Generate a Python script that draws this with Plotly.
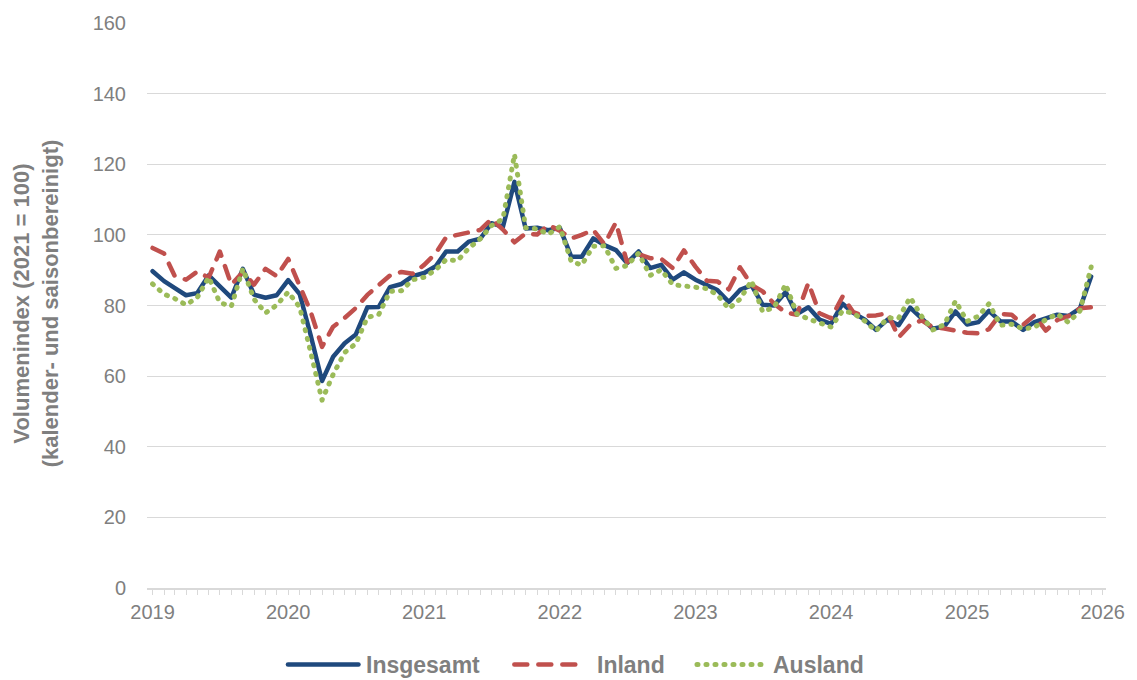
import plotly.graph_objects as go
import pandas as pd

# Monthly index values, Jan 2019 - Dec 2025 (2021 = 100, calendar and seasonally adjusted)
months = pd.date_range("2019-01-01", "2025-12-01", freq="MS")

insgesamt = [
    89.7, 86.9, 85.0, 82.9, 83.5, 88.5, 85.4, 82.2, 90.4, 83.1, 82.2, 82.9,
    87.2, 83.2, 71.8, 58.6, 65.5, 69.3, 71.8, 79.5, 79.6, 85.2, 86.1, 88.3,
    89.2, 91.1, 95.3, 95.3, 98.1, 98.9, 103.3, 102.3, 115.0, 101.8, 102.0, 101.3,
    102.0, 93.8, 93.8, 99.0, 97.1, 95.7, 92.0, 95.3, 90.6, 91.5, 87.3, 89.4,
    87.3, 85.8, 84.4, 81.0, 84.4, 85.7, 80.2, 80.0, 83.8, 77.6, 79.5, 76.0,
    74.8, 80.5, 77.9, 76.0, 73.1, 76.0, 74.4, 79.4, 76.4, 73.4, 74.1, 78.3,
    74.6, 75.3, 78.5, 75.5, 75.5, 73.1, 75.3, 76.2, 77.4, 77.0, 79.2, 88.2,
]

inland = [
    96.3, 94.7, 88.5, 87.3, 89.6, 87.9, 95.3, 85.9, 89.5, 85.9, 90.4, 88.3,
    93.2, 85.4, 78.4, 68.3, 74.0, 76.5, 79.3, 83.0, 86.0, 88.5, 89.5, 89.0,
    91.5, 94.8, 99.3, 100.0, 100.4, 101.4, 104.5, 101.5, 97.9, 100.4, 100.1, 102.8,
    101.2, 99.0, 100.0, 101.4, 97.3, 103.5, 92.2, 94.5, 93.4, 93.2, 90.6, 95.6,
    91.0, 87.0, 86.8, 84.6, 90.8, 85.8, 84.0, 80.5, 78.0, 77.4, 86.4, 77.8,
    76.4, 82.5, 78.1, 77.0, 77.2, 77.8, 71.0, 74.5, 75.8, 73.8, 73.5, 72.9,
    72.3, 72.1, 73.3, 77.6, 77.4, 74.5, 77.2, 72.9, 75.9, 77.0, 79.2, 79.5,
]

ausland = [
    86.1, 83.2, 82.0, 80.2, 82.2, 88.0, 80.8, 79.8, 90.4, 81.8, 77.9, 80.1,
    83.8, 79.5, 67.0, 53.2, 60.5, 66.7, 69.2, 76.6, 77.5, 84.0, 84.2, 87.3,
    88.0, 90.1, 93.0, 92.7, 96.2, 98.9, 102.6, 104.5, 122.8, 102.0, 101.7, 100.2,
    102.3, 92.4, 91.5, 96.8, 96.9, 90.5, 91.3, 94.8, 88.5, 90.1, 85.9, 85.6,
    85.1, 84.8, 83.0, 79.1, 81.8, 87.0, 78.2, 79.5, 86.0, 77.6, 76.2, 74.9,
    73.9, 78.5, 77.8, 75.6, 72.8, 76.5, 76.4, 82.3, 76.9, 73.1, 74.6, 81.3,
    75.5, 77.0, 80.5, 74.4, 74.7, 73.4, 73.8, 76.0, 77.6, 75.2, 78.5, 90.9,
]

series_names = ["Insgesamt", "Inland", "Ausland"]
y_ticks = [0, 20, 40, 60, 80, 100, 120, 140, 160]

BLUE = "#1F497D"
RED = "#C0504D"
GREEN = "#9BBB59"
GREY = "#7F7F7F"
GRID = "#D9D9D9"
FONT = "Liberation Sans, Arial, sans-serif"

W, H = 1137, 680
ML, MR, MT, MB = 147, 24, 20, 92
PW, PH = W - ML - MR, H - MT - MB

styles = {
    "Insgesamt": dict(color=BLUE, width=4.5, dash="solid"),
    "Inland": dict(color=RED, width=4.5, dash="13px,11px"),
    "Ausland": dict(color=GREEN, width=5, dash="1px,8px"),
}
values = {"Insgesamt": insgesamt, "Inland": inland, "Ausland": ausland}

fig = go.Figure()
for name in series_names:
    fig.add_trace(go.Scatter(
        x=months, y=values[name], name=name, mode="lines",
        line=styles[name], showlegend=False, hoverinfo="x+y+name",
    ))


def px_x(px):
    return (px - ML) / PW


def px_y(py):
    return (MT + PH - py) / PH


# legend drawn below the plot with long swatches
legend_y = 665
legend_items = [
    ("Insgesamt", 289, 360, 366),
    ("Inland", 517, 584, 598),
    ("Ausland", 701, 766, 776),
]
shapes = []
annotations = []
for name, x0, x1, tx in legend_items:
    st = styles[name]
    shapes.append(dict(
        type="line", xref="paper", yref="paper",
        x0=px_x(x0), x1=px_x(x1), y0=px_y(legend_y), y1=px_y(legend_y),
        line=dict(color=st["color"], width=st["width"], dash=st["dash"]),
    ))
    annotations.append(dict(
        text=f"<b>{name}</b>", xref="paper", yref="paper",
        x=px_x(tx), y=px_y(legend_y), xanchor="left", yanchor="middle",
        showarrow=False, font=dict(family=FONT, size=23, color=GREY),
    ))

annotations.append(dict(
    text="<b>Volumenindex (2021 = 100)</b><br><b>(kalender- und saisonbereinigt)</b>",
    xref="paper", yref="paper", x=px_x(35), y=px_y(302),
    xanchor="center", yanchor="middle", textangle=-90, showarrow=False,
    font=dict(family=FONT, size=22, color=GREY),
))

fig.update_layout(
    width=W, height=H,
    margin=dict(l=ML, r=MR, t=MT, b=MB, pad=0),
    paper_bgcolor="white", plot_bgcolor="white",
    font=dict(family=FONT, color=GREY),
    shapes=shapes, annotations=annotations,
    showlegend=False,
)

fig.update_xaxes(
    type="date",
    range=["2018-12-17", "2026-01-10"],
    tick0="2019-01-01", dtick="M12", tickformat="%Y",
    ticks="outside", ticklen=5, tickwidth=1, tickcolor=GRID,
    minor=dict(dtick="M1", ticks="outside", ticklen=5, tickwidth=1, tickcolor=GRID),
    showline=True, linecolor=GRID, linewidth=1.5,
    showgrid=False, zeroline=False,
    tickfont=dict(family=FONT, size=20, color=GREY),
)

fig.update_yaxes(
    range=[0, 160], tickvals=y_ticks,
    showgrid=True, gridcolor=GRID, gridwidth=1.3,
    zeroline=False, showline=False,
    ticks="outside", ticklen=16, tickcolor="rgba(0,0,0,0)",
    tickfont=dict(family=FONT, size=20, color=GREY),
)

post = """
var gd = document.getElementById('{plot_id}');
function roundCaps() {
  gd.querySelectorAll('.scatterlayer path.js-line, .shapelayer path').forEach(function (p) {
    p.style.strokeLinecap = 'round';
    p.style.strokeLinejoin = 'round';
  });
}
roundCaps();
gd.on('plotly_afterplot', roundCaps);
"""

fig.write_html("out.html", post_script=post)
